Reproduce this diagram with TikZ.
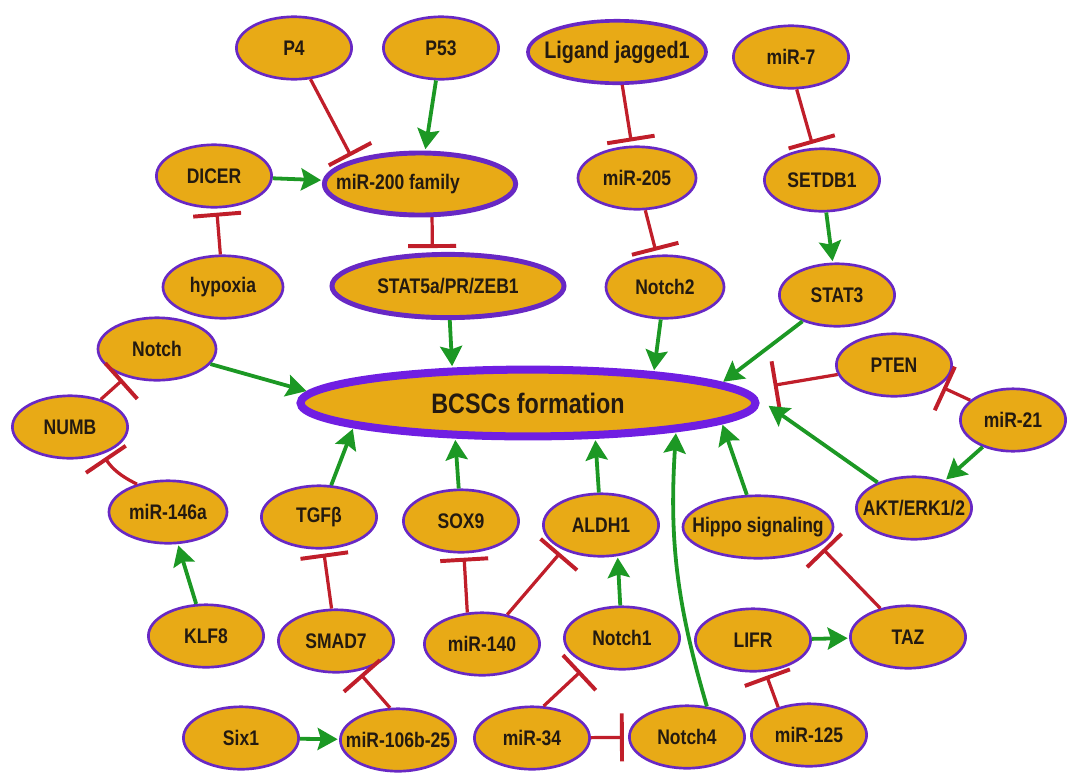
\documentclass[tikz,border=0pt]{standalone}
\usepackage{fontspec}
\usepackage{tikz}
\usetikzlibrary{shapes.geometric,arrows.meta}
\newfontfamily\narrowsans{Liberation Sans}[FakeStretch=0.83]
\definecolor{geneorange}{RGB}{232,170,22}
\definecolor{genepurple}{RGB}{104,40,196}
\definecolor{bcscpurple}{RGB}{112,30,226}
\definecolor{genetext}{RGB}{36,26,16}
\definecolor{actgreen}{RGB}{28,152,36}
\definecolor{inhred}{RGB}{192,30,42}
\tikzset{
  gene/.style={ellipse, draw=genepurple, fill=geneorange, line width=1.9pt, inner sep=0pt, inner xsep=-2.5em,
    minimum width=2.88cm, minimum height=1.56cm, text=genetext, font=\narrowsans\bfseries\fontsize{15}{17}\selectfont},
  keygene/.style={gene, line width=3.5pt},
  act/.style={draw=actgreen, line width=2.7pt, -{Stealth[length=0.5cm, width=0.55cm, inset=0.08cm]}, shorten >=1pt},
  inh/.style={draw=inhred, line width=2.3pt, -{Bar[width=1.2cm, line width=2.8pt]}, shorten >=3pt}
}

\begin{document}
\begin{tikzpicture}[x=0.025cm, y=-0.025cm]
         \useasboundingbox (0,0) rectangle (1069,772);
         \node[gene] (p4) at (294,48) {P4};
         \node[gene] (p53) at (441,48) {P53};
         \node[gene, line width=2.6pt, minimum width=4.45cm, font=\narrowsans\bfseries\fontsize{17}{19}\selectfont] (lig) at (617,52) {Ligand jagged1};
         \node[gene] (mir7) at (791,57) {miR-7};
         \node[gene] (dicer) at (214,176) {DICER};
         \node[keygene, minimum width=4.78cm, minimum height=1.55cm] (mir200) at (420,184) {miR-200 family\makebox[1.1cm]{}};
         \node[gene, minimum width=2.95cm] (mir205) at (637,178) {miR-205};
         \node[gene] (setdb1) at (822,180) {SETDB1};
         \node[gene, minimum width=3cm] (hypoxia) at (223,287) {hypoxia};
         \node[keygene, minimum width=5.8cm, minimum height=1.58cm] (stat5a) at (448,286) {STAT5a/PR/ZEB1};
         \node[gene, minimum width=2.95cm] (notch2) at (665,287) {Notch2};
         \node[gene] (stat3) at (837,295) {STAT3};
         \node[gene, minimum width=2.95cm] (notch) at (157,349) {Notch};
         \node[gene, draw=bcscpurple, line width=5.7pt, minimum width=11.37cm, minimum height=1.67cm, font=\narrowsans\bfseries\fontsize{20}{22}\selectfont] (bcsc) at (528,403) {BCSCs formation};
         \node[gene] (pten) at (894,365) {PTEN};
         \node[gene] (numb) at (70,427) {NUMB};
         \node[gene, minimum width=2.63cm] (mir21) at (1013,420) {miR-21};
         \node[gene, minimum width=2.95cm] (mir146a) at (168,512) {miR-146a};
         \node[gene] (tgfb) at (319,517) {TGFβ};
         \node[gene] (sox9) at (461,521) {SOX9};
         \node[gene] (aldh1) at (601,525) {ALDH1};
         \node[gene, minimum width=3.75cm] (hippo) at (758,527) {Hippo signaling};
         \node[gene] (akt) at (914,508) {AKT/ERK1/2};
         \node[gene] (klf8) at (206,636) {KLF8};
         \node[gene] (smad7) at (336,641) {SMAD7};
         \node[gene] (mir140) at (482,644) {miR-140};
         \node[gene] (notch1) at (622,638) {Notch1};
         \node[gene] (lifr) at (753,640) {LIFR};
         \node[gene] (taz) at (908,637) {TAZ};
         \node[gene] (six1) at (241,738) {Six1};
         \node[gene] (mir106) at (398,740) {miR-106b-25};
         \node[gene] (mir34) at (532,738) {miR-34};
         \node[gene] (notch4) at (687,737) {Notch4};
         \node[gene] (mir125) at (809,735) {miR-125};
         \draw[inh] (p4) -- (mir200.160);
         \draw[act] (p53) -- (mir200);
         \draw[act] (dicer) -- (mir200);
         \draw[inh] (hypoxia) -- (dicer);
         \draw[inh] (mir200.-70) -- (stat5a.115);
         \draw[inh] (lig) -- (mir205);
         \draw[inh] (mir7.-80) -- (setdb1.105);
         \draw[inh] (mir205) -- (notch2);
         \draw[act] (setdb1) -- (stat3);
         \draw[act] (stat5a) -- (bcsc.155);
         \draw[act] (notch2) -- (bcsc.14);
         \draw[act] (stat3) -- (bcsc.6);
         \draw[act] (notch) -- (bcsc.177);
         \draw[inh] (pten) -- ([shift={(10,-17)}]bcsc.east);
         \draw[act] (akt) -- ([shift={(8,2)}]bcsc.east);
         \draw[inh] (mir21) -- (pten);
         \draw[act] (mir21) -- (akt);
         \draw[act] (hippo) -- (bcsc.-6);
         \draw[act] (tgfb) -- (bcsc.188);
         \draw[act] (sox9) -- (bcsc.206);
         \draw[act] (aldh1) -- (bcsc.-28);
         \draw[act] (notch4.57) to[bend left=10] (bcsc.-11);
         \draw[act] (notch1) -- (aldh1.-62);
         \draw[inh] (mir140) -- (aldh1.213);
         \draw[inh] (mir140.115) -- (sox9.-85);
         \draw[inh] (smad7) -- (tgfb);
         \draw[inh] (mir106.104) -- (smad7.-54);
         \draw[act] (six1) -- (mir106);
         \draw[act] (klf8) -- (mir146a);
         \draw[inh] (mir146a.138) to[bend left=15] (numb.-40);
         \draw[inh] (numb) -- (notch);
         \draw[inh] (taz) -- (hippo.-17);
         \draw[act] (lifr) -- (taz);
         \draw[inh] (mir125.138) -- (lifr.-69);
         \draw[inh] (mir34) -- (notch4);
         \draw[inh, shorten >=7pt] (mir34.70) -- (notch1.218);
    \end{tikzpicture}
\end{document}
